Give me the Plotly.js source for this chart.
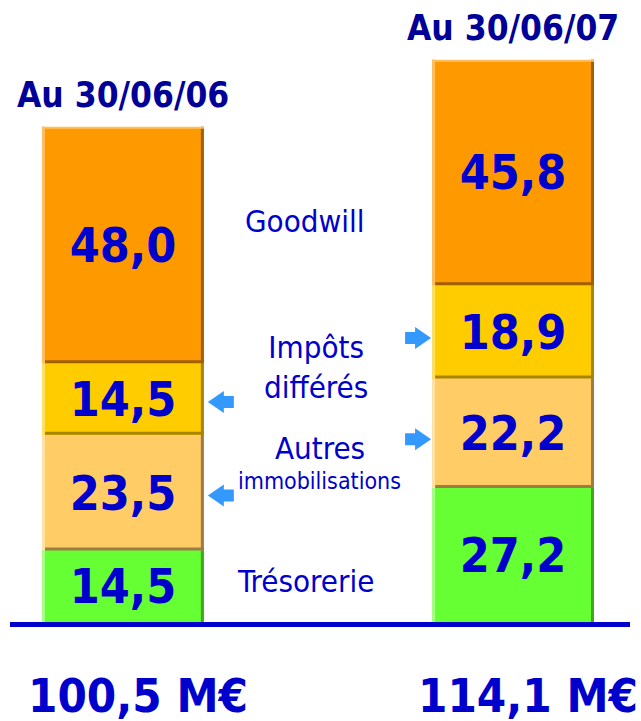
<!DOCTYPE html>
<html>
<head>
<meta charset="utf-8">
<script src="https://cdn.plot.ly/plotly-3.0.1.min.js"></script>
<style>html,body{margin:0;padding:0;background:#fff;}#chart{width:641px;height:721px;}</style>
</head>
<body>
<div id="chart"></div>
<script>
// ---- data ----
var categories = ["Au 30/06/06", "Au 30/06/07"];
var seriesNames = ["Trésorerie", "Autres immobilisations", "Impôts différés", "Goodwill"];
var tresorerie = [14.5, 27.2];
var autres = [23.5, 22.2];
var impots = [14.5, 18.9];
var goodwill = [48.0, 45.8];
var unit = "M€";

// ---- styles ----
var series = [tresorerie, autres, impots, goodwill];
var faceColors = ["#66FF33", "#FFCC66", "#FFCC00", "#FF9900"];
var darkColors = ["#3FA81E", "#A07A44", "#A88400", "#A06000"];
var lightColors = ["#A8FF88", "#FFE2A8", "#FFE066", "#FFBF60"];
var barWidth = 0.415;
var fam = "DejaVu Sans Condensed, DejaVu Sans";
var valueFont = {family: fam, size: 48, color: "#0000CC", weight: "bold"};
var labelFont = {family: fam, size: 31, color: "#0000CC"};

function fmt(v) { return v.toFixed(1).replace('.', ','); }

var traces = series.map(function (vals, i) {
  return {
    type: "bar",
    name: seriesNames[i],
    x: categories,
    y: vals,
    width: barWidth,
    marker: {color: faceColors[i], line: {width: 0}},
    texttemplate: "%{y:.1f}",
    textposition: "inside",
    insidetextanchor: "middle",
    constraintext: "none",
    textangle: 0,
    textfont: valueFont,
    hoverinfo: "skip"
  };
});

var shapes = [];
var totals = categories.map(function (c, j) {
  var s = 0; series.forEach(function (v) { s += v[j]; }); return s;
});

categories.forEach(function (c, j) {
  var base = 0;
  series.forEach(function (vals, i) {
    var top = base + vals[j];
    shapes.push({type: "rect", xref: "x", yref: "y", xsizemode: "pixel", xanchor: j + barWidth / 2,
      x0: -3, x1: 0, y0: base, y1: top, fillcolor: darkColors[i], line: {width: 0}});
    shapes.push({type: "rect", xref: "x", yref: "y", xsizemode: "pixel", xanchor: j - barWidth / 2,
      x0: 0, x1: 3, y0: base, y1: top, fillcolor: lightColors[i], line: {width: 0}});
    if (i > 0) {
      shapes.push({type: "rect", xref: "x", yref: "y", ysizemode: "pixel", yanchor: base,
        x0: j - barWidth / 2 + 0.008, x1: j + barWidth / 2, y0: 0, y1: 3, fillcolor: darkColors[i], line: {width: 0}});
    }
    if (i === series.length - 1) {
      shapes.push({type: "rect", xref: "x", yref: "y", ysizemode: "pixel", yanchor: top,
        x0: j - barWidth / 2, x1: j + barWidth / 2, y0: -2, y1: 0, fillcolor: lightColors[i], line: {width: 0}});
    }
    base = top;
  });
});

function segCenter(si, j) {
  var b = 0; for (var k = 0; k < si; k++) b += series[k][j];
  return b + series[si][j] / 2;
}
var arrowColor = "#3399FF";
[1, 2].forEach(function (si) {
  shapes.push({type: "path", xref: "x", yref: "y", xsizemode: "pixel", ysizemode: "pixel",
    xanchor: 0 + barWidth / 2, yanchor: segCenter(si, 0),
    path: "M 4 -3 L 20 8 L 20 3 L 30 3 L 30 -9 L 20 -9 L 20 -14 Z",
    fillcolor: arrowColor, line: {width: 0}});
  shapes.push({type: "path", xref: "x", yref: "y", xsizemode: "pixel", ysizemode: "pixel",
    xanchor: 1 - barWidth / 2, yanchor: segCenter(si, 1),
    path: "M -1 -6 L -17 5 L -17 0 L -27 0 L -27 -12 L -17 -12 L -17 -17 Z",
    fillcolor: arrowColor, line: {width: 0}});
});

shapes.push({type: "rect", xref: "paper", yref: "y", ysizemode: "pixel", yanchor: 0,
  x0: 10 / 641, x1: 630 / 641, y0: -5, y1: 0, fillcolor: "#0000CC", line: {width: 0}});

var annotations = [];
categories.forEach(function (c, j) {
  annotations.push({xref: "x", yref: "y", x: j, y: totals[j], yanchor: "bottom", yshift: 10,
    text: c, showarrow: false,
    font: {family: fam, size: 35, color: "#000099", weight: "bold"}});
  annotations.push({xref: "x", yref: "y", x: j, y: -14.9, yanchor: "middle", xshift: 15, borderpad: 0,
    text: fmt(totals[j]) + " " + unit, showarrow: false,
    font: {family: fam, size: 47, color: "#0000CC", weight: "bold"}});
});
annotations.push({xref: "x", yref: "y", x: 0.467, y: 81.3, text: "Goodwill", showarrow: false, font: labelFont});
annotations.push({xref: "x", yref: "y", x: 0.495, y: 51.8, text: "Impôts<br>différés", showarrow: false, font: labelFont});
annotations.push({xref: "x", yref: "y", x: 0.505, y: 35.3, text: "Autres", showarrow: false, font: labelFont});
annotations.push({xref: "x", yref: "y", x: 0.505, y: 28.6, text: "immobilisations", showarrow: false,
  font: {family: fam, size: 23, color: "#0000CC"}});
annotations.push({xref: "x", yref: "y", x: 0.469, y: 8.3, text: "Trésorerie", showarrow: false, font: labelFont});

var layout = {
  width: 641, height: 721,
  margin: {l: 0, r: 0, t: 0, b: 0},
  paper_bgcolor: "#FFFFFF", plot_bgcolor: "#FFFFFF",
  barmode: "stack",
  separators: ", ",
  showlegend: false,
  xaxis: {type: "category", range: [-0.315, 1.328], visible: false, fixedrange: true},
  yaxis: {range: [-20.1, 126.2], visible: false, fixedrange: true},
  shapes: shapes,
  annotations: annotations
};

Plotly.newPlot("chart", traces, layout, {displayModeBar: false, staticPlot: true});
</script>
</body>
</html>
